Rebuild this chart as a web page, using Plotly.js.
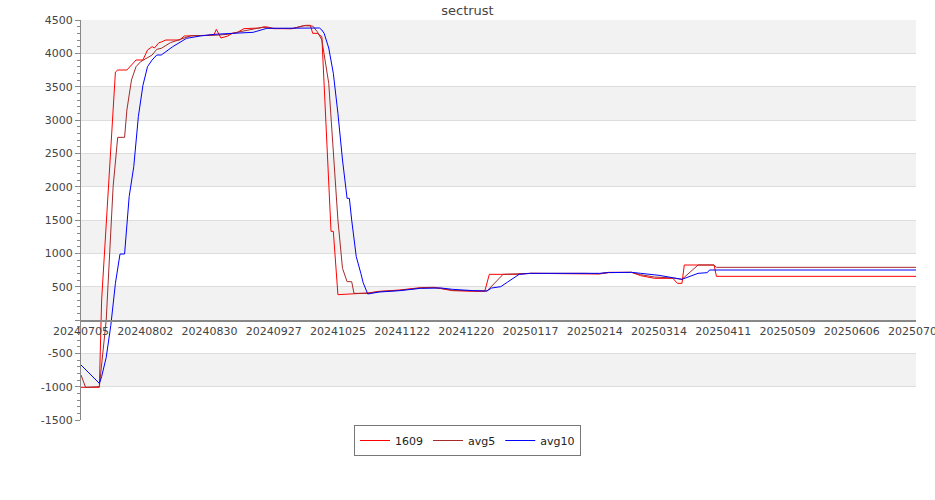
<!DOCTYPE html>
<html>
<head>
<meta charset="utf-8">
<script src="https://cdn.plot.ly/plotly-3.0.1.min.js"></script>
<style>html,body{margin:0;padding:0;background:#fff;}#chart{width:935px;height:500px;}</style>
</head>
<body>
<div id="chart"></div>
<script>
const chartTitle = "sectrust";
const seriesNames = ["1609", "avg5", "avg10"];

const dates1609 = ["2024-07-05","2024-07-13","2024-07-14","2024-07-20","2024-07-21","2024-07-25","2024-07-29","2024-08-01","2024-08-03","2024-08-05","2024-08-06","2024-08-08","2024-08-09","2024-08-11","2024-08-17","2024-08-19","2024-08-29","2024-09-01","2024-09-02","2024-09-04","2024-09-07","2024-09-09","2024-09-11","2024-09-14","2024-09-21","2024-09-23","2024-09-25","2024-09-27","2024-10-05","2024-10-08","2024-10-11","2024-10-13","2024-10-14","2024-10-16","2024-10-18","2024-10-22","2024-10-23","2024-10-25","2024-11-01","2024-11-07","2024-11-12","2024-11-21","2024-11-30","2024-12-06","2024-12-09","2024-12-14","2024-12-23","2024-12-28","2024-12-30","2025-01-11","2025-01-17","2025-02-09","2025-02-16","2025-02-20","2025-03-02","2025-03-06","2025-03-12","2025-03-20","2025-03-22","2025-03-24","2025-03-25","2025-04-07","2025-04-08","2025-07-04"];
const values1609 = [-1010,-1010,300,3720,3750,3750,3900,3900,4050,4100,4080,4160,4170,4200,4200,4260,4270,4280,4360,4230,4260,4300,4310,4370,4380,4400,4390,4370,4370,4390,4420,4420,4300,4300,4250,1330,1330,380,395,405,430,450,485,490,470,440,430,430,685,685,700,690,690,715,715,665,625,625,550,550,825,825,655,655];

const datesAvg5 = ["2024-07-05","2024-07-07","2024-07-13","2024-07-16","2024-07-19","2024-07-21","2024-07-24","2024-07-25","2024-07-27","2024-07-29","2024-07-31","2024-08-02","2024-08-05","2024-08-07","2024-08-09","2024-08-13","2024-08-17","2024-08-22","2024-09-01","2024-09-07","2024-09-11","2024-09-18","2024-09-22","2024-09-27","2024-10-05","2024-10-10","2024-10-14","2024-10-16","2024-10-18","2024-10-21","2024-10-23","2024-10-25","2024-10-27","2024-10-29","2024-10-31","2024-11-01","2024-11-07","2024-11-12","2024-11-21","2024-11-30","2024-12-06","2024-12-09","2024-12-14","2024-12-23","2024-12-29","2025-01-05","2025-01-11","2025-01-17","2025-02-09","2025-02-16","2025-02-20","2025-03-02","2025-03-06","2025-03-12","2025-03-20","2025-03-24","2025-03-31","2025-04-07","2025-04-08","2025-07-04"];
const valuesAvg5 = [-825,-1010,-1000,0,2000,2740,2740,3150,3600,3800,3875,3910,3975,4060,4075,4160,4210,4265,4270,4285,4315,4360,4390,4375,4370,4415,4410,4325,4200,3550,2500,1500,775,575,575,400,400,425,445,480,485,475,445,435,435,685,690,700,700,695,710,715,680,645,630,610,825,825,790,790];

const datesAvg10 = ["2024-07-05","2024-07-13","2024-07-14","2024-07-16","2024-07-18","2024-07-20","2024-07-22","2024-07-24","2024-07-26","2024-07-28","2024-07-30","2024-08-01","2024-08-03","2024-08-05","2024-08-07","2024-08-09","2024-08-14","2024-08-20","2024-08-26","2024-09-01","2024-09-09","2024-09-18","2024-09-24","2024-10-17","2024-10-18","2024-10-19","2024-10-21","2024-10-23","2024-10-25","2024-10-27","2024-10-29","2024-10-30","2024-10-31","2024-11-02","2024-11-04","2024-11-05","2024-11-07","2024-11-12","2024-11-21","2024-11-30","2024-12-09","2024-12-14","2024-12-23","2024-12-28","2024-12-29","2024-12-31","2025-01-04","2025-01-07","2025-01-09","2025-01-12","2025-01-17","2025-02-16","2025-02-20","2025-03-02","2025-03-06","2025-03-14","2025-03-24","2025-03-31","2025-04-04","2025-04-05","2025-07-04"];
const valuesAvg10 = [-675,-950,-850,-560,-80,550,990,990,1850,2300,3050,3520,3800,3900,3975,3975,4100,4225,4260,4285,4300,4315,4375,4380,4350,4300,4080,3700,3100,2400,1825,1825,1500,950,700,560,390,420,440,475,480,460,440,430,435,480,500,570,615,685,700,700,712,715,700,670,610,700,710,750,750];

const yTickVals = [-1500,-1000,-500,0,500,1000,1500,2000,2500,3000,3500,4000,4500];
const yTickText = ["-1500","-1000","-500","","500","1000","1500","2000","2500","3000","3500","4000","4500"];
const xRange = ["2024-07-05","2025-07-04 00:20"];

const colors = ["#ff0000", "#a52a2a", "#0000ff"];

const traces = [
  {x: dates1609, y: values1609, name: seriesNames[0]},
  {x: datesAvg5, y: valuesAvg5, name: seriesNames[1]},
  {x: datesAvg10, y: valuesAvg10, name: seriesNames[2]}
].map((t, i) => Object.assign(t, {type: "scatter", mode: "lines", line: {color: colors[i], width: 1}}));

const bands = [];
for (let v = -1000; v <= 4000; v += 1000) {
  bands.push({type: "rect", xref: "paper", yref: "y", x0: 0, x1: 1, y0: v, y1: v + 500,
    fillcolor: "#f2f2f2", line: {width: 0}, layer: "below"});
}

const layout = {
  width: 935, height: 500,
  margin: {l: 81, r: 19, t: 20, b: 80, pad: 0},
  paper_bgcolor: "#ffffff",
  plot_bgcolor: "rgba(0,0,0,0)",
  font: {family: "DejaVu Sans", size: 11, color: "#444"},
  title: {text: chartTitle, font: {family: "DejaVu Sans", size: 13, color: "#444"}, x: 0.5, xanchor: "center", y: 0.98, yanchor: "middle", yref: "container"},
  showlegend: true,
  legend: {orientation: "h", x: 0.4629, xanchor: "center", y: -0.0125, yanchor: "top",
    bordercolor: "#777", borderwidth: 1, bgcolor: "#fff", font: {size: 11, color: "#222"},
    itemwidth: 30, tracegroupgap: 0},
  xaxis: {
    type: "date", range: xRange, tick0: "2024-07-05", dtick: 28 * 86400000,
    tickformat: "%Y%m%d", showgrid: false, zeroline: false,
    anchor: "free", position: 0.25, showline: true, linecolor: "#888", linewidth: 1.5,
    ticks: "", ticklabeloverflow: "allow", tickfont: {size: 11, color: "#444"}
  },
  yaxis: {
    range: [-1500, 4500], tickmode: "array", tickvals: yTickVals, ticktext: yTickText,
    showgrid: true, gridcolor: "#dddddd", gridwidth: 1, zeroline: false,
    showline: true, linecolor: "#888", linewidth: 1,
    ticks: "outside", ticklen: 5, tickcolor: "#888",
    minor: {tickmode: "linear", tick0: 0, dtick: 100, ticks: "outside", ticklen: 3, tickcolor: "#888", showgrid: false},
    tickfont: {size: 11, color: "#444"}
  },
  shapes: bands
};

Plotly.newPlot("chart", traces, layout, {staticPlot: true, displayModeBar: false});
</script>
</body>
</html>
